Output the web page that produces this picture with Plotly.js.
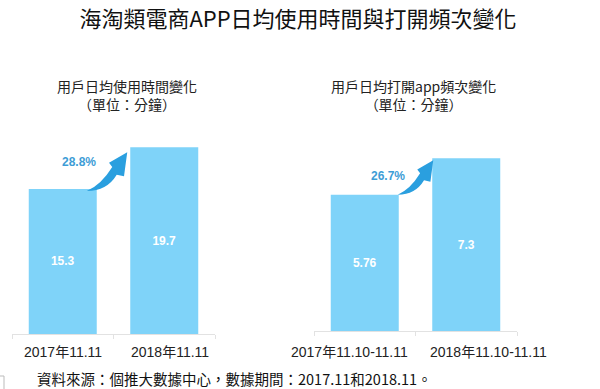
<!DOCTYPE html>
<html>
<head>
<meta charset="utf-8">
<script src="https://cdn.plot.ly/plotly-3.0.1.min.js"></script>
<style>html,body{margin:0;padding:0;background:#fff;}#chart{width:600px;height:389px;}</style>
</head>
<body>
<div id="chart"></div>
<script>
// ---- data ----
const mainTitle = '海淘類電商APP日均使用時間與打開頻次變化';
const leftCategories = ['2017年11.11', '2018年11.11'];
const leftValues = [15.3, 19.7];
const leftGrowth = '28.8%';
const leftSubtitle = ['用戶日均使用時間變化', '（單位：分鐘）'];
const rightCategories = ['2017年11.10-11.11', '2018年11.10-11.11'];
const rightValues = [5.76, 7.3];
const rightGrowth = '26.7%';
const rightSubtitle = ['用戶日均打開app頻次變化', '（單位：分鐘）'];
const sourceNote = '資料來源：個推大數據中心，數據期間：2017.11和2018.11。';

// ---- style / layout config ----
const W = 600, H = 389;
const BAR = '#7fd3f9', ARROW = '#2a9fdf', PCT = '#3d9dd6';
const LATIN = 'Liberation Sans, Arial, Noto Sans CJK TC, sans-serif';
const CJK = 'Noto Sans CJK TC, Liberation Sans, sans-serif';
const BARGAP = 0.33;

const panels = [
  {cats: leftCategories, vals: leftValues, growth: leftGrowth, sub: leftSubtitle,
   xdom: [12/W, 215/W], ydom: [55/H, 249/H], R: 194/9.48, subX: 127, labelY: 352,
   labelShift: [0, 6],
   tailOff: [-10, 2], tipOff: [-3, 5], pctOff: [-8, -29], xa: 'x', ya: 'y'},
  {cats: rightCategories, vals: rightValues, growth: rightGrowth, sub: rightSubtitle,
   xdom: [314/W, 517/W], ydom: [58/H, 239/H], R: 181/23.66, subX: 414, labelY: 352,
   labelShift: [-15, 22],
   tailOff: [-1, 0], tipOff: [1, 2], pctOff: [-10, -19], xa: 'x2', ya: 'y2'}
];

const traces = [];
const shapes = [];
const annotations = [];
const layout = {
  width: W, height: H,
  margin: {l: 0, r: 0, t: 0, b: 0},
  paper_bgcolor: '#fff', plot_bgcolor: 'rgba(0,0,0,0)',
  showlegend: false, bargap: BARGAP,
  title: {text: mainTitle, x: 298 / W, xanchor: 'center', y: 1 - 19/H, yanchor: 'middle',
          font: {family: CJK, size: 22, color: '#111'}},
  shapes: shapes, annotations: annotations
};

function pxPos(p, idx, v) {
  const x0 = p.xdom[0] * W, xw = (p.xdom[1] - p.xdom[0]) * W;
  const y0 = H * (1 - p.ydom[0]), yh = (p.ydom[1] - p.ydom[0]) * H;
  return [x0 + (idx + 0.5) / p.cats.length * xw, y0 - v / p.R * yh];
}

panels.forEach((p, i) => {
  const sfx = i === 0 ? '' : '2';
  traces.push({
    type: 'bar', x: p.cats, y: p.vals, xaxis: p.xa, yaxis: p.ya,
    marker: {color: BAR}, text: p.vals.map(v => String(v)),
    textposition: 'inside', insidetextanchor: 'middle',
    textfont: {family: LATIN, size: 12, color: '#fff', weight: 'bold'},
    hoverinfo: 'skip'
  });
  layout['xaxis' + sfx] = {
    domain: p.xdom, anchor: p.ya, type: 'category', range: [-0.5, p.cats.length - 0.5],
    showgrid: false, zeroline: false,
    showline: true, linecolor: '#e2e2e2', linewidth: 1,
    ticks: 'outside', tickson: 'boundaries', ticklen: 4, tickcolor: '#e2e2e2',
    showticklabels: false, automargin: false, fixedrange: true
  };
  layout['yaxis' + sfx] = {
    domain: p.ydom, anchor: p.xa, range: [0, p.R], visible: false, fixedrange: true
  };

  // category labels, tied to the category positions
  p.cats.forEach((c, k) => {
    annotations.push({
      xref: p.xa, yref: 'paper', x: k, y: 1 - p.labelY / H, xshift: p.labelShift[k],
      xanchor: 'center', yanchor: 'middle', showarrow: false, text: c,
      font: {family: LATIN, size: 14, color: '#222'}
    });
  });

  // growth arrow between bar tops
  const slotPx = (p.xdom[1] - p.xdom[0]) * W / p.cats.length;
  const halfBar = (1 - BARGAP) * slotPx / 2;
  const b0 = pxPos(p, 0, p.vals[0]);
  const b1 = pxPos(p, 1, p.vals[1]);
  const tail = [b0[0] + halfBar + p.tailOff[0], b0[1] + p.tailOff[1]];
  const tip = [b1[0] - halfBar + p.tipOff[0], b1[1] + p.tipOff[1]];
  const dx = tip[0] - tail[0], dy = tip[1] - tail[1];
  const pt = (u, v) => {
    const x = tail[0] + u * dx, y = tail[1] + v * dy;
    return (x / W).toFixed(5) + ',' + (1 - y / H).toFixed(5);
  };
  const path = 'M' + pt(0, 0) +
    ' Q' + pt(0.5, 0.0) + ' ' + pt(0.74, 0.42) +
    ' L' + pt(0.92, 0.38) + ' L' + pt(1, 1) + ' L' + pt(0.55, 0.73) +
    ' L' + pt(0.63, 0.62) + ' Q' + pt(0.35, 0.15) + ' ' + pt(0, 0) + ' Z';
  shapes.push({type: 'path', xref: 'paper', yref: 'paper', path: path,
               fillcolor: ARROW, line: {width: 0}, layer: 'above'});

  annotations.push({
    xref: 'paper', yref: 'paper', x: (tail[0] + p.pctOff[0]) / W, y: 1 - (tail[1] + p.pctOff[1]) / H,
    xanchor: 'center', yanchor: 'middle', showarrow: false, text: '<b>' + p.growth + '</b>',
    font: {family: LATIN, size: 12, color: PCT}
  });
  annotations.push({
    xref: 'paper', yref: 'paper', x: p.subX / W, y: 1 - 95 / H,
    xanchor: 'center', yanchor: 'middle', showarrow: false, align: 'center',
    text: p.sub[0] + '<br>' + p.sub[1],
    font: {family: CJK, size: 14, color: '#222'}
  });
});

annotations.push({
  xref: 'paper', yref: 'paper', x: 35 / W, y: 1 - 378 / H, xanchor: 'left', yanchor: 'middle',
  showarrow: false, text: sourceNote, font: {family: CJK, size: 14.5, color: '#111'}
});
shapes.push({type: 'path', xref: 'paper', yref: 'paper',
  path: 'M0,' + (1 - 376/H) + ' L' + (4/W) + ',' + (1 - 376/H) + ' L' + (4/W) + ',0',
  line: {color: '#bbbbbb', width: 1}});

Plotly.newPlot('chart', traces, layout, {staticPlot: true, displayModeBar: false});
</script>
</body>
</html>
